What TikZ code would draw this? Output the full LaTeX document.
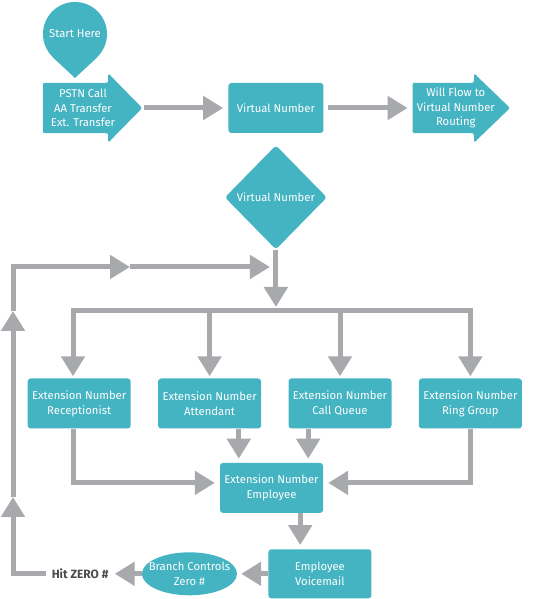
\documentclass[tikz,border=0pt]{standalone}
\usepackage{fontspec}
\setmainfont{Fira Sans}
\usetikzlibrary{positioning}
\usetikzlibrary{shapes.geometric}
\usetikzlibrary{arrows.meta}
\usetikzlibrary{backgrounds}
\definecolor{callteal}{HTML}{44B3C2}
\definecolor{callgray}{HTML}{A7A9AC}
\definecolor{calltext}{HTML}{4D4D4F}
\tikzset{main node/.style={shape=rectangle,
    fill=callteal, rounded corners=3pt, align=center,
    text=white, inner sep=2pt,
    minimum width=103pt, minimum height=50pt},
  text node/.style={align=center, text=white, inner sep=0pt},
  >={Triangle[length=20pt,width=23pt]},
  line/.style={draw=callgray, color=callgray, line width=5pt},
  flow/.style={line, ->}}

\begin{document}
\begin{tikzpicture}[x=1pt, y=1pt, font=\fontsize{11.3}{14.8}\selectfont]
    \useasboundingbox (0,0) rectangle (537,599);

    \node[main node, shape=circle, minimum size=64pt, inner sep=0pt] (1) at (75,565) {Start Here};
    \coordinate (0) at (75,521);
    \node[text node, minimum width=80pt, minimum height=50pt] (2) at (83,491) {PSTN Call\\AA Transfer\\Ext. Transfer};
    \node[main node, minimum width=95pt] (3) [right = 105pt of 2] {Virtual Number};
    \node[text node, minimum width=86pt, minimum height=50pt] (4) [right = 89pt of 3] {Will Flow to\\Virtual Number\\Routing};

    \node[main node, shape=diamond, minimum width=102pt, minimum height=104pt, inner sep=0pt] (5) [below = 12pt of 3] {Virtual Number};

    \node[main node] (8) at (340,195.5) {Extension Number\\Call Queue};
    \node[main node] (7) [left = 27pt of 8] {Extension Number\\Attendant};
    \node[main node] (6) [left = 27pt of 7] {Extension Number\\Receptionist};
    \node[main node] (9) [right = 27pt of 8] {Extension Number\\Ring Group};

    \node[main node] (10) [below right = 34pt and -41.5pt of 7] {Extension Number\\Employee};
    \node[main node, minimum height=49pt] (11) [below right = 36pt and -55pt of 10] {Employee\\Voicemail};
    \node[main node, shape=ellipse, inner xsep=-7pt, inner ysep=0pt, minimum width=0pt, minimum height=43pt] (12) [left = 31pt of 11] {Branch Controls\\Zero \#};
    \node[text=calltext, font=\fontsize{12}{14.8}\selectfont\bfseries, inner xsep=6pt] (13) [left = 27pt of 12] {Hit ZERO \#};

    \coordinate (b1) at (73,288);
    \coordinate (l1) at (13,102);
    \coordinate (l2) at (13,288);
    \coordinate (l3) at (130,332);

    \begin{scope}[on background layer]
    \fill[callteal] (1.center) -- (1.-46) -- (0) -- (1.-134) -- cycle;
    \fill[callteal, rounded corners=2pt] (2.south west) -- (2.north west) -- ([xshift=-15pt]2.north east)
      -- ([xshift=-15pt,yshift=9.5pt]2.north east) -- ([xshift=19pt]2.east)
      -- ([xshift=-15pt,yshift=-9.5pt]2.south east) -- ([xshift=-15pt]2.south east) -- cycle;
    \fill[callteal, rounded corners=2pt] (4.south west) -- (4.north west) -- ([xshift=-25pt]4.north east)
      -- ([xshift=-25pt,yshift=9.5pt]4.north east) -- ([xshift=11pt]4.east)
      -- ([xshift=-25pt,yshift=-9.5pt]4.south east) -- ([xshift=-25pt]4.south east) -- cycle;
    \end{scope}

    \path
    (2) edge[flow, shorten <=21pt, shorten >=5pt] (3)
    (3) edge[flow, shorten <=4pt, shorten >=5pt] (4)
    (5) edge[flow, shorten >=4pt] (5.south |- b1)
    (7.north |- b1) edge[flow, shorten >=2pt] (7.north)
    (8.north |- b1) edge[flow, shorten >=2pt] (8.north)
    ([xshift=19pt]10.north west |- 7.south) edge[flow, shorten >=4pt] ([xshift=19pt]10.north west)
    ([xshift=-15pt]10.north east |- 8.south) edge[flow, shorten >=4pt] ([xshift=-15pt]10.north east)
    ([xshift=32pt]11.north west |- 10.south) edge[flow, shorten >=4pt] ([xshift=32pt]11.north west)
    (11) edge[flow, shorten >=4pt] (12)
    (12) edge[flow] (13)
    ;

    \draw[line, <->, shorten <=2pt, shorten >=2pt] (b1 |- 6.north) -- (b1) -- (9.north |- b1) -- (9.north);
    \draw[flow, shorten >=5pt] (b1 |- 6.south) |- ([yshift=5pt]10.west);
    \draw[flow, shorten >=5pt] (9.south) |- ([yshift=5pt]10.east);

    \draw[flow] (13.west) -| (l1);
    \draw[flow] (l1) -- (l2);
    \draw[flow] (l2) |- (l3);
    \draw[flow, shorten >=6pt] (l3) -- (l3 -| 5.south);
\end{tikzpicture}
\end{document}
